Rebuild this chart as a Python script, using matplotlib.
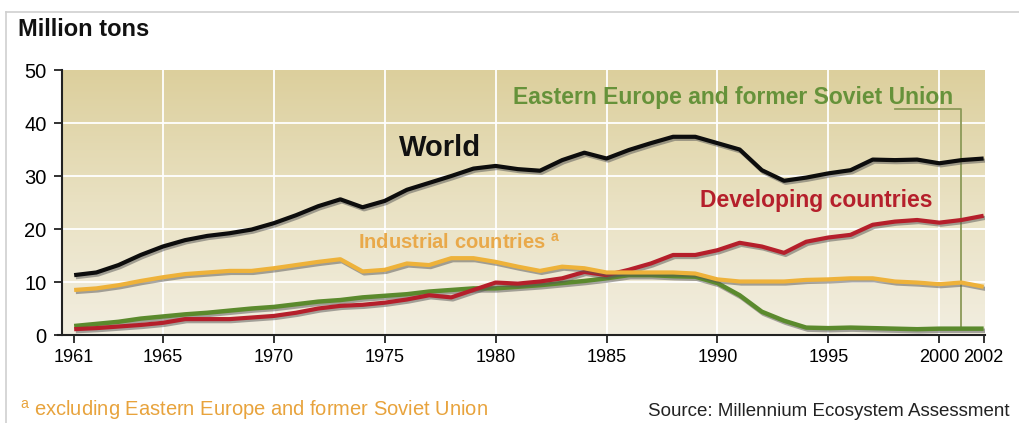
import numpy as np
import matplotlib
matplotlib.use('Agg')
import matplotlib.pyplot as plt
import matplotlib.patheffects as pe
from matplotlib.colors import LinearSegmentedColormap
from matplotlib.lines import Line2D

years = list(range(1961, 2003))
world = [11.3, 11.8, 13.2, 15.1, 16.7, 17.9, 18.7, 19.2, 19.9, 21.1,
         22.6, 24.3, 25.6, 24.1, 25.3, 27.4, 28.7, 30.0, 31.4, 31.9,
         31.3, 31.0, 33.0, 34.4, 33.3, 34.9, 36.2, 37.4, 37.4, 36.2,
         35.0, 31.1, 29.1, 29.7, 30.5, 31.1, 33.1, 33.0, 33.1, 32.4,
         33.0, 33.3]
industrial = [8.5, 8.8, 9.4, 10.2, 10.9, 11.5, 11.8, 12.1, 12.1, 12.6,
              13.2, 13.8, 14.3, 12.0, 12.3, 13.5, 13.2, 14.5, 14.5, 13.8,
              12.9, 12.1, 12.9, 12.6, 11.8, 11.8, 11.8, 11.8, 11.6, 10.5,
              10.1, 10.1, 10.1, 10.4, 10.5, 10.7, 10.7, 10.1, 9.9, 9.6,
              9.9, 9.1]
developing = [1.1, 1.3, 1.6, 1.9, 2.3, 3.0, 3.0, 3.0, 3.3, 3.6,
              4.2, 5.0, 5.5, 5.7, 6.1, 6.7, 7.5, 7.1, 8.5, 9.9,
              9.7, 10.1, 10.7, 11.9, 11.3, 12.3, 13.5, 15.1, 15.1, 16.0,
              17.4, 16.7, 15.5, 17.6, 18.4, 18.9, 20.8, 21.4, 21.7, 21.2,
              21.7, 22.5]
eastern = [1.7, 2.1, 2.5, 3.1, 3.5, 3.9, 4.2, 4.6, 5.0, 5.3,
           5.8, 6.3, 6.6, 7.1, 7.4, 7.7, 8.2, 8.5, 8.8, 8.8,
           9.1, 9.4, 9.8, 10.2, 10.7, 11.3, 11.3, 11.1, 11.0, 9.8,
           7.5, 4.4, 2.7, 1.4, 1.3, 1.4, 1.3, 1.2, 1.1, 1.2,
           1.2, 1.2]
xticks = [1961, 1965, 1970, 1975, 1980, 1985, 1990, 1995, 2000, 2002]

plt.rcParams['font.family'] = ['Liberation Sans', 'DejaVu Sans']

fig = plt.figure(figsize=(10.19, 4.23), dpi=100)
ax = fig.add_axes([0.0608, 0.208, 0.9056, 0.6265])
x0, x1 = 1960.45, 2002.05
ax.set_xlim(x0, x1)
ax.set_ylim(0, 50)

# background gradient
bg = LinearSegmentedColormap.from_list('bg', ['#dccf9c', '#e9e1c2', '#f2eee0'])
ax.imshow(np.linspace(0, 1, 256).reshape(-1, 1), cmap=bg, aspect='auto',
          extent=[x0, x1, 0, 50], origin='upper', zorder=0)

for gx in xticks[1:-1]:
    ax.axvline(gx, color='white', lw=1.3, zorder=1)
for gy in [10, 20, 30, 40]:
    ax.axhline(gy, color='white', lw=1.3, zorder=1)

shadow = [pe.SimpleLineShadow(offset=(1.2, -1.5), shadow_color='#555555', alpha=0.5), pe.Normal()]
ax.plot(years, eastern, color='#5b8a2d', lw=3.2, zorder=3, path_effects=shadow, solid_capstyle='butt')
ax.plot(years, developing, color='#b51f2b', lw=3.0, zorder=4, path_effects=shadow, solid_capstyle='butt')
ax.plot(years, industrial, color='#eeb23a', lw=3.0, zorder=5, path_effects=shadow, solid_capstyle='butt')
ax.plot(years, world, color='#0d0d0d', lw=3.0, zorder=6, path_effects=shadow, solid_capstyle='butt')

# leader line for Eastern Europe label
ax.plot([1998.0, 2001.0, 2001.0], [42.6, 42.6, 1.5], color='#8c9a58', lw=1.3, zorder=2)

ax.text(1977.5, 35.3, 'World', fontsize=21, fontweight='bold', color='#111111',
        ha='center', va='center', zorder=7)
ax.text(1980.8, 44.9, 'Eastern Europe and former Soviet Union', fontsize=16.5,
        fontweight='bold', color='#66923a', ha='left', va='center', zorder=7)
ax.text(1989.2, 25.3, 'Developing countries', fontsize=16.5, fontweight='bold',
        color='#b51f2b', ha='left', va='center', zorder=7)
ax.text(1973.8, 17.4, 'Industrial countries $^{\\mathregular{a}}$', fontsize=14.5,
        fontweight='bold', color='#e9a94a', ha='left', va='center', zorder=7)

for s in ['top', 'right']:
    ax.spines[s].set_visible(False)
for s in ['left', 'bottom']:
    ax.spines[s].set_color('#222222')
    ax.spines[s].set_linewidth(1.5)
ax.spines['bottom'].set_bounds(1960.25, 2002.05)
ax.set_xticks(xticks)
ax.set_yticks([0, 10, 20, 30, 40, 50])
ax.tick_params(axis='both', labelsize=13, length=6, width=1.3, color='#222222', pad=4)
ax.tick_params(axis='y', labelsize=14.5, pad=5)

fig.text(0.018, 0.93, 'Million tons', fontsize=17, fontweight='bold', color='#111111',
         ha='left', va='center')
fig.text(0.02, 0.03, '$^{\\mathregular{a}}$ excluding Eastern Europe and former Soviet Union',
         fontsize=14.5, color='#e8a33c', ha='left', va='center')
fig.text(0.636, 0.028, 'Source: Millennium Ecosystem Assessment', fontsize=13.5,
         color='#222222', ha='left', va='center')

# light frame around the graphic
fig.add_artist(Line2D([6 / 1019, 1], [1 - 12 / 423, 1 - 12 / 423], color='#cfcfcf', lw=1.2))
fig.add_artist(Line2D([6 / 1019, 6 / 1019], [0, 1 - 12 / 423], color='#cfcfcf', lw=1.2))

fig.savefig('out.png', dpi=100)
